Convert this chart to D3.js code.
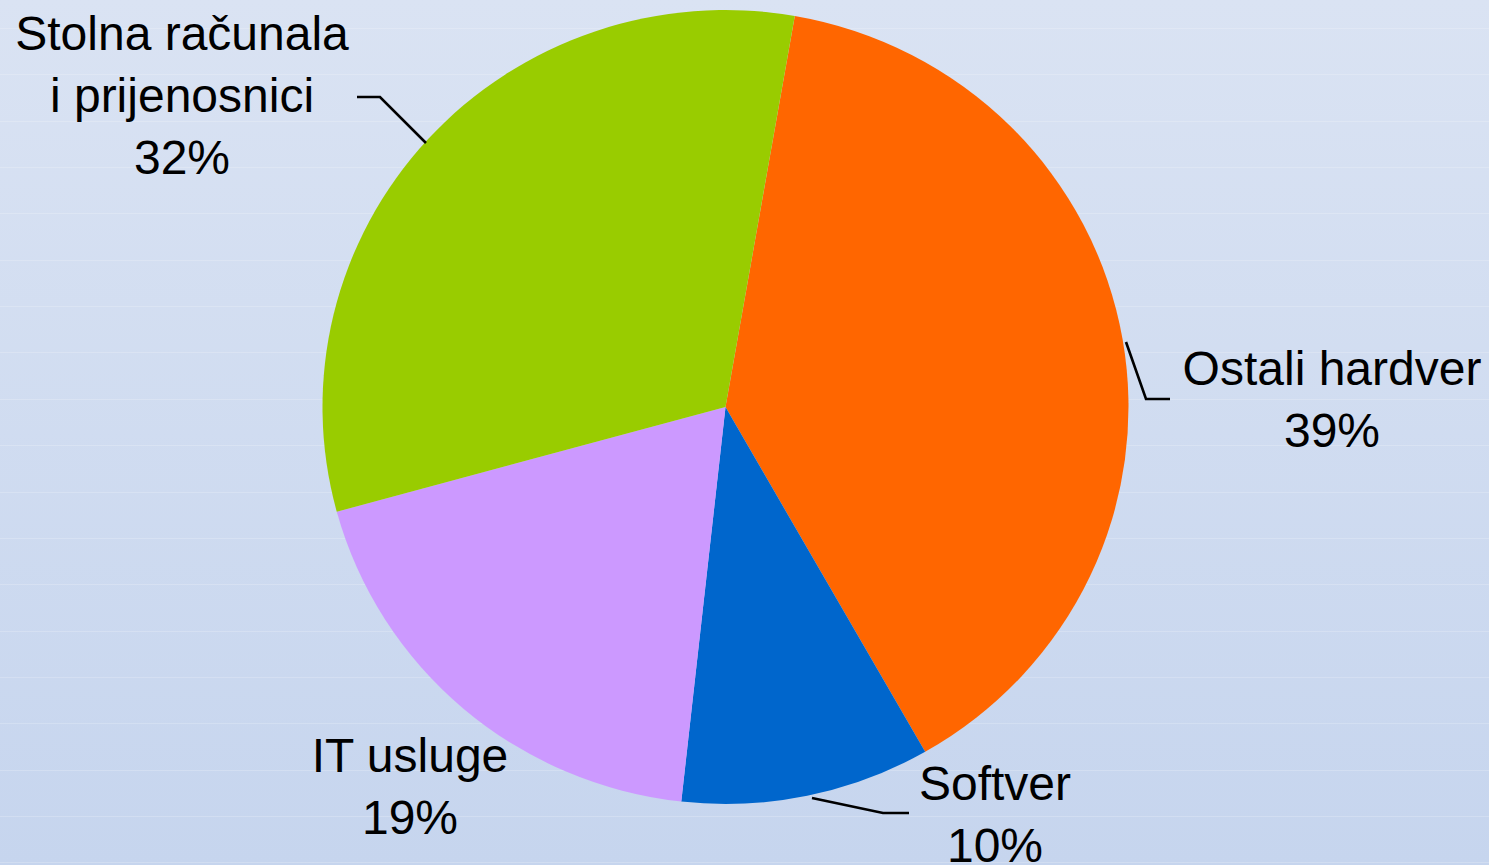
<!DOCTYPE html>
<html>
<head>
<meta charset="utf-8">
<script src="https://cdn.jsdelivr.net/npm/d3@7"></script>
<style>
  html, body { margin: 0; padding: 0; overflow: hidden; }
  text { font-family: "Liberation Sans", Arial, sans-serif; }
</style>
</head>
<body>
<svg id="chart"></svg>
<script>
const width = 1489;
const height = 865;

// data
const categories = ["Ostali hardver", "Softver", "IT usluge", "Stolna računala\ni prijenosnici"];
const values = [39, 10, 19, 32];
const colors = ["#FF6600", "#0066CC", "#CC99FF", "#99CC00"];

// layout
const cx = 725.5, cy = 407, rx = 403, ry = 397;
const startDeg = 9.9;
const labelPos = [[1332, 385], [995, 800], [410, 772], [182, 50]];
const leaders = [
  [[1126, 342], [1146, 399], [1170, 399]],
  [[812, 798], [883, 813], [909, 813]],
  null,
  [[426, 143], [380, 97], [357, 97]]
];
const lineH = 62;

const svg = d3.select("#chart")
  .attr("width", width)
  .attr("height", height);

// background
const defs = svg.append("defs");
const grad = defs.append("linearGradient")
  .attr("id", "bg")
  .attr("x1", 0).attr("y1", 0).attr("x2", 0).attr("y2", 1);
grad.append("stop").attr("offset", "0%").attr("stop-color", "#DAE3F3");
grad.append("stop").attr("offset", "100%").attr("stop-color", "#C6D5EE");

svg.append("rect")
  .attr("width", width)
  .attr("height", height)
  .attr("fill", "url(#bg)");

svg.append("g")
  .selectAll("line")
  .data(d3.range(28, height, 46.35))
  .enter().append("line")
  .attr("x1", 0).attr("x2", width)
  .attr("y1", d => Math.round(d) + 0.5)
  .attr("y2", d => Math.round(d) + 0.5)
  .attr("stroke", "#ffffff")
  .attr("stroke-opacity", 0.2)
  .attr("stroke-width", 1);

// pie
const pie = d3.pie()
  .sort(null)
  .startAngle(startDeg * Math.PI / 180)
  .endAngle(startDeg * Math.PI / 180 + 2 * Math.PI);

const arc = d3.arc().innerRadius(0).outerRadius(rx);

const g = svg.append("g")
  .attr("transform", `translate(${cx},${cy}) scale(1,${ry / rx})`);

g.selectAll("path")
  .data(pie(values))
  .enter().append("path")
  .attr("d", arc)
  .attr("fill", (d, i) => colors[i]);

// leader lines
svg.append("g")
  .selectAll("path")
  .data(leaders.filter(d => d))
  .enter().append("path")
  .attr("d", d => d3.line()(d))
  .attr("fill", "none")
  .attr("stroke", "#000")
  .attr("stroke-width", 2.6);

// labels
const labels = svg.append("g");
categories.forEach((c, i) => {
  const lines = c.split("\n").concat([values[i] + "%"]);
  const t = labels.append("text")
    .attr("text-anchor", "middle")
    .attr("font-size", 48)
    .attr("fill", "#000");
  lines.forEach((l, j) => {
    t.append("tspan")
      .attr("x", labelPos[i][0])
      .attr("y", labelPos[i][1] + j * lineH)
      .text(l);
  });
});
</script>
</body>
</html>
